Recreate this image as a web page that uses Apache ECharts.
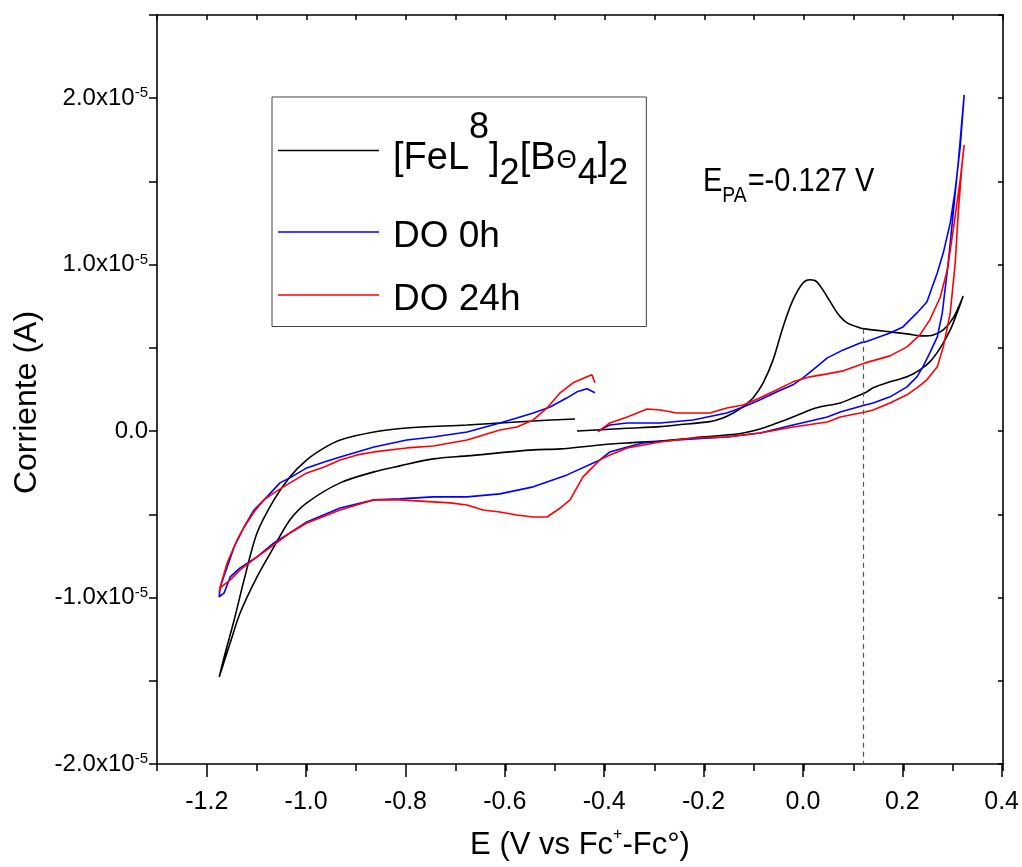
<!DOCTYPE html>
<html><head><meta charset="utf-8">
<script src="https://cdn.jsdelivr.net/npm/echarts@6/dist/echarts.min.js"></script>
<style>html,body{margin:0;padding:0;background:#fff}#c{width:1022px;height:867px}</style>
</head><body><div id="c"></div>
<script>
// ---- data (E in V vs Fc+/Fc, I in microampere) ----
const blackE = [-0.456,-0.355,-0.289,-0.255,-0.189,-0.163,-0.142,-0.122,-0.102,-0.082,
  -0.062,-0.042,-0.022,-0.002,0.012,0.026,0.047,0.067,0.087,0.113,
  0.123,0.173,0.207,0.239,0.26,0.28,0.30,0.32,
  0.31,0.294,0.274,0.253,0.233,0.207,0.173,0.139,0.123,0.099,
  0.073,0.032,0.012,-0.022,-0.054,-0.088,-0.122,-0.155,-0.223,-0.289,
  -0.355,-0.41,-0.49,-0.544,-0.677,-0.745,-0.812,-0.864,-0.932,-0.999,
  -1.033,-1.065,-1.099,-1.133,-1.153,-1.175,
  -1.165,-1.145,-1.125,-1.099,-1.065,-1.033,-0.999,-0.964,-0.932,-0.864,
  -0.798,-0.677,-0.544,-0.46];
const blackI = [0.01,0.17,0.27,0.37,0.57,0.79,1.09,1.47,2.0,2.9,
  4.28,6.26,7.88,8.9,9.09,8.97,8.06,7.1,6.5,6.2,
  6.14,5.96,5.84,5.72,5.78,6.08,6.8,8.12,
  7.28,6.08,5.0,4.16,3.68,3.26,2.96,2.6,2.3,2.0,
  1.69,1.45,1.27,0.85,0.49,0.13,-0.11,-0.23,-0.41,-0.59,
  -0.71,-0.83,-1.07,-1.13,-1.49,-1.67,-2.09,-2.45,-3.11,-4.31,
  -5.34,-6.96,-8.76,-10.93,-12.73,-14.77,
  -13.57,-11.35,-8.94,-6.12,-4.13,-2.75,-1.73,-1.01,-0.53,-0.05,
  0.19,0.37,0.61,0.73];

const blueE = [-0.414,-0.39,-0.355,-0.289,-0.223,-0.155,-0.122,-0.088,-0.054,-0.022,
  -0.002,0.018,0.047,0.079,0.113,0.123,0.173,0.199,0.227,0.247,
  0.268,0.28,0.294,0.304,0.314,0.322,
  0.31,0.30,0.29,0.278,0.268,0.253,0.239,0.227,0.207,0.173,
  0.139,0.123,0.073,0.047,-0.022,-0.088,-0.155,-0.189,-0.255,-0.323,
  -0.355,-0.39,-0.41,-0.476,-0.544,-0.611,-0.677,-0.745,-0.812,-0.864,
  -0.932,-0.999,-1.033,-1.065,-1.099,-1.133,-1.153,-1.165,-1.175,
  -1.173,-1.159,-1.145,-1.125,-1.105,-1.079,-1.053,-1.033,-0.999,-0.964,
  -0.932,-0.898,-0.864,-0.798,-0.745,-0.677,-0.611,-0.577,-0.544,-0.51,
  -0.476,-0.456,-0.436,-0.42];
const blueI = [0.01,0.37,0.49,0.49,0.67,1.09,1.45,1.88,2.36,2.78,
  3.2,3.68,4.4,4.88,5.3,5.36,5.9,6.26,7.1,7.76,
  9.51,10.71,12.51,14.5,17.08,20.2,
  16.12,13.11,10.11,7.1,5.66,4.7,3.86,3.26,2.66,2.06,
  1.69,1.57,1.15,0.85,0.37,-0.11,-0.35,-0.41,-0.53,-0.71,
  -0.95,-1.25,-1.73,-2.63,-3.35,-3.77,-3.95,-3.95,-4.07,-4.13,
  -4.62,-5.46,-6.12,-6.72,-7.56,-8.22,-8.76,-9.72,-9.96,
  -9.36,-8.16,-6.96,-5.76,-4.74,-3.95,-3.11,-2.81,-2.21,-1.85,
  -1.55,-1.25,-0.95,-0.53,-0.35,-0.05,0.49,0.79,1.09,1.45,
  2.0,2.36,2.54,2.3];

const redE = [-0.414,-0.39,-0.355,-0.315,-0.289,-0.255,-0.223,-0.189,-0.155,-0.122,
  -0.088,-0.054,-0.022,0.012,0.047,0.079,0.113,0.123,0.173,0.207,
  0.233,0.253,0.274,0.288,0.30,0.314,0.322,
  0.318,0.31,0.304,0.294,0.28,0.268,0.247,0.227,0.207,0.173,
  0.139,0.123,0.073,0.047,-0.022,-0.088,-0.155,-0.223,-0.289,-0.355,
  -0.39,-0.41,-0.444,-0.47,-0.49,-0.516,-0.544,-0.577,-0.611,-0.645,
  -0.677,-0.711,-0.745,-0.812,-0.864,-0.932,-0.999,-1.033,-1.065,-1.099,
  -1.133,-1.153,-1.173,-1.175,
  -1.169,-1.159,-1.139,-1.125,-1.105,-1.085,-1.065,-1.033,-0.999,-0.964,
  -0.932,-0.898,-0.864,-0.798,-0.745,-0.677,-0.611,-0.577,-0.544,-0.516,
  -0.49,-0.464,-0.436,-0.426,-0.42];
const redI = [-0.05,0.49,0.85,1.33,1.27,1.09,1.09,1.09,1.39,1.57,
  2.0,2.48,2.96,3.26,3.44,3.62,3.98,4.1,4.52,5.06,
  5.78,6.68,8.06,9.69,12.09,15.1,17.2,
  16.12,13.11,10.11,7.1,5.06,3.86,3.08,2.6,2.18,1.69,
  1.27,1.15,0.85,0.55,0.25,-0.11,-0.35,-0.41,-0.65,-1.01,
  -1.43,-1.73,-2.75,-4.13,-4.62,-5.16,-5.16,-5.04,-4.86,-4.74,
  -4.44,-4.31,-4.25,-4.13,-4.13,-4.74,-5.52,-6.12,-6.84,-7.56,
  -8.34,-8.94,-9.42,-9.66,
  -8.94,-7.92,-6.54,-5.76,-4.86,-4.13,-3.71,-3.11,-2.51,-2.15,
  -1.73,-1.43,-1.25,-1.01,-0.89,-0.53,0.07,0.25,0.67,1.39,
  2.3,2.9,3.26,3.38,2.9];

const seriesNames = ['[FeL8]2[BΘ4]2', 'DO 0h', 'DO 24h'];
const xTickLabels = ['-1.2','-1.0','-0.8','-0.6','-0.4','-0.2','0.0','0.2','0.4'];
const yTickValues = [-20, -10, 0, 10, 20];
const yTickLabels = ['-2.0x10', '-1.0x10', '0.0', '1.0x10', '2.0x10'];
const yTickExp = ['-5', '-5', '', '-5', '-5'];
const dashLine = [[0.12, 6.15], [0.12, -20]];
const annotation = ['E', 'PA', '=-0.127 V'];

// ---- chart ----
const SANS = '"Liberation Sans",Arial,sans-serif';
const GL = 157, GR = 19, GT = 15, GB = 103;
const plotW = 1022 - GL - GR;
const zip = (a, b) => a.map((v, i) => [v, b[i]]);
const chart = echarts.init(document.getElementById('c'), null, {renderer: 'canvas'});
const axLine = {show: true, onZero: false, lineStyle: {color: '#000', width: 1.6}};
const tickStyle = {color: '#000', width: 1.5};

const option = {
  animation: false,
  backgroundColor: '#fff',
  grid: [
    {left: GL, right: GR, top: GT, bottom: GB},
    {left: GL + plotW * (0.1 / 1.7), right: GR, top: GT, bottom: GB}
  ],
  legend: {
    left: 272, top: 97, orient: 'vertical', selectedMode: false,
    padding: [13, 18, 8, 6], itemGap: 16, itemWidth: 101, itemHeight: 1.6,
    icon: 'rect',
    borderColor: '#444', borderWidth: 1, backgroundColor: '#fff',
    data: seriesNames,
    formatter: function (name) {
      if (name === seriesNames[0]) {
        return '{m1|[FeL}{sp|8}{m|]}{sb|2}{m|[B}{th|Θ}{sb|4}{m|]}{sb|2}';
      }
      return '{d|' + name + '}';
    },
    textStyle: {
      color: '#000', fontFamily: SANS,
      rich: {
        m1: {fontSize: 38, fontFamily: SANS, color: '#000', padding: [16, 0, 0, 9]},
        m: {fontSize: 38, fontFamily: SANS, color: '#000', padding: [16, 0, 0, 0]},
        sp: {fontSize: 36, fontFamily: SANS, color: '#000', padding: [0, 0, 45, 0]},
        sb: {fontSize: 36, fontFamily: SANS, color: '#000', padding: [48, 0, 0, 0]},
        th: {fontSize: 26, fontFamily: SANS, color: '#000', padding: [21, 1, 0, 1]},
        d: {fontSize: 37, fontFamily: SANS, color: '#000', lineHeight: 48, padding: [10, 0, 0, 9]}
      }
    }
  },
  xAxis: [
    {
      gridIndex: 0, type: 'value', min: -1.3, max: 0.4, interval: 0.1, position: 'bottom',
      axisLine: axLine, axisTick: {show: true, length: 7, lineStyle: tickStyle},
      axisLabel: {show: false}, splitLine: {show: false},
      name: '{a|E (V vs Fc}{s|+}{a|-Fc°)}', nameLocation: 'middle', nameGap: 63,
      nameTextStyle: {
        color: '#000',
        rich: {
          a: {fontSize: 31, fontFamily: SANS, color: '#000'},
          s: {fontSize: 16, fontFamily: SANS, color: '#000', padding: [0, 0, 20, 0]}
        }
      }
    },
    {
      gridIndex: 0, type: 'value', min: -1.3, max: 0.4, interval: 0.1, position: 'top',
      axisLine: axLine, axisTick: {show: true, inside: true, length: 5, lineStyle: tickStyle},
      axisLabel: {show: false}, splitLine: {show: false}
    },
    {
      gridIndex: 1, type: 'value', min: -1.2, max: 0.4, interval: 0.2, position: 'bottom',
      axisLine: {show: false, onZero: false},
      axisTick: {show: true, length: 13, lineStyle: tickStyle},
      axisLabel: {
        show: true, margin: 26, fontSize: 25, fontFamily: SANS, color: '#000',
        formatter: function (v) {
          const s = v.toFixed(1);
          return xTickLabels.indexOf(s) >= 0 ? s : '';
        }
      },
      splitLine: {show: false}
    }
  ],
  yAxis: [
    {
      gridIndex: 0, type: 'value', min: -20, max: 25, interval: 5, position: 'left',
      axisLine: axLine, axisTick: {show: true, length: 8, lineStyle: tickStyle},
      splitLine: {show: false},
      axisLabel: {
        show: true, margin: 9, color: '#000',
        formatter: function (v) {
          const i = yTickValues.indexOf(Math.round(v));
          if (i < 0) return '';
          return yTickExp[i] ? '{b|' + yTickLabels[i] + '}{s|' + yTickExp[i] + '}' : '{b|' + yTickLabels[i] + '}';
        },
        rich: {
          b: {fontSize: 24, fontFamily: SANS, color: '#000'},
          s: {fontSize: 15, fontFamily: SANS, color: '#000', padding: [0, 0, 10, 0]}
        }
      },
      name: 'Corriente (A)', nameLocation: 'middle', nameGap: 114, nameRotate: 90,
      nameTextStyle: {fontSize: 32, fontFamily: SANS, color: '#000', padding: [0, 26, 0, 0]}
    },
    {
      gridIndex: 0, type: 'value', min: -20, max: 25, interval: 5, position: 'right',
      axisLine: axLine, axisTick: {show: true, inside: true, length: 5, lineStyle: tickStyle},
      axisLabel: {show: false}, splitLine: {show: false}
    },
    {gridIndex: 1, type: 'value', min: 0, max: 1, show: false}
  ],
  graphic: [
    {
      type: 'text', left: 703, top: 165, silent: true, scaleX: 0.88,
      style: {
        text: '{e|' + annotation[0] + '}{p|' + annotation[1] + '}{t|' + annotation[2] + '}',
        fill: '#000',
        rich: {
          e: {fontSize: 33, fontFamily: SANS, fill: '#000'},
          p: {fontSize: 22, fontFamily: SANS, fill: '#000', padding: [28, 1, 0, 0]},
          t: {fontSize: 33, fontFamily: SANS, fill: '#000'}
        }
      }
    }
  ],
  series: [
    {
      name: seriesNames[0], type: 'line', xAxisIndex: 0, yAxisIndex: 0,
      data: zip(blackE, blackI), symbol: 'none', showSymbol: false, smooth: 0.3,
      lineStyle: {color: '#000', width: 1.6}, itemStyle: {color: '#000'},
      markLine: {
        silent: true, symbol: ['none', 'none'], label: {show: false},
        lineStyle: {type: [5, 4], color: '#555', width: 1.2},
        data: [[{coord: dashLine[0]}, {coord: dashLine[1]}]]
      }
    },
    {
      name: seriesNames[1], type: 'line', xAxisIndex: 0, yAxisIndex: 0,
      data: zip(blueE, blueI), symbol: 'none', showSymbol: false,
      lineStyle: {color: '#0000ff', width: 1.6}, itemStyle: {color: '#0000ff'}
    },
    {
      name: seriesNames[2], type: 'line', xAxisIndex: 0, yAxisIndex: 0,
      data: zip(redE, redI), symbol: 'none', showSymbol: false,
      lineStyle: {color: '#ff0000', width: 1.6}, itemStyle: {color: '#ff0000'}
    }
  ]
};
chart.setOption(option);
</script>
</body></html>
